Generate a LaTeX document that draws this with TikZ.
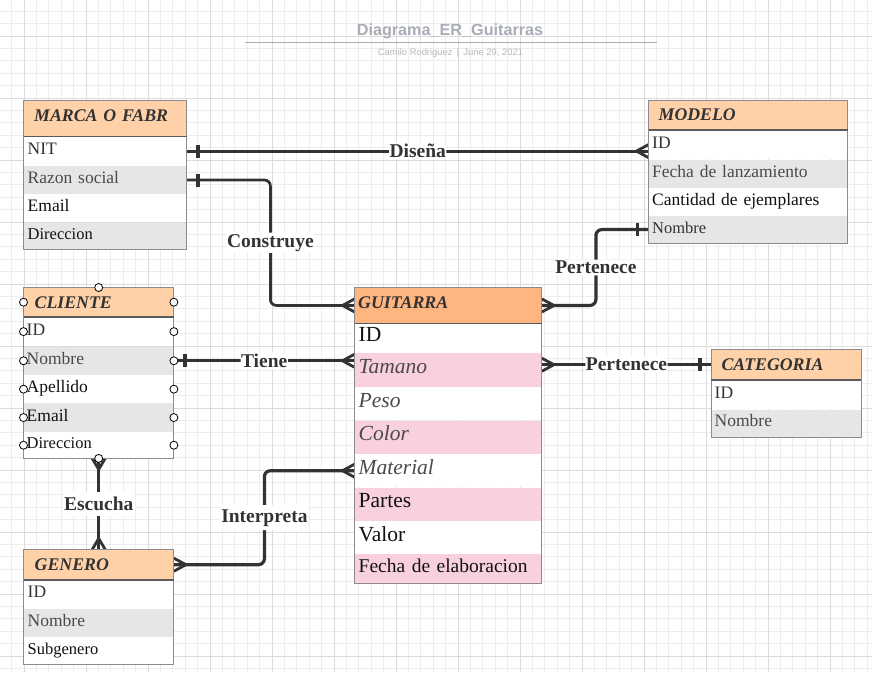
\documentclass[tikz,border=0pt]{standalone}
\usepackage{fontspec}
\setmainfont{Liberation Serif}
\newfontfamily\titlefont{Liberation Sans}
\usetikzlibrary{calc}
\definecolor{peach}{HTML}{FFD1A9}
\definecolor{orangeb}{HTML}{FFB57F}
\definecolor{rowgray}{HTML}{E6E6E6}
\definecolor{rowpink}{HTML}{F8D1DC}
\definecolor{cdark}{HTML}{333333}
\definecolor{boxline}{HTML}{8C8C8C}
\definecolor{hdline}{HTML}{5A5A5A}
\definecolor{gminor}{HTML}{EDEDED}
\definecolor{gmajor}{HTML}{DCDCDC}
\definecolor{ttl}{HTML}{A9ADB6}
\definecolor{subttl}{HTML}{B8B8B8}
\definecolor{tA}{HTML}{111111}
\definecolor{tB}{HTML}{333333}
\definecolor{tC}{HTML}{4A4A4A}
\newcommand\hdfont{\fontsize{17.8}{19}\selectfont\bfseries\itshape}
\newcommand\rwfont{\fontsize{17.5}{19}\selectfont}
\newcommand\rwsmall{\fontsize{16.5}{18}\selectfont}
\newcommand\gbig{\fontsize{21.5}{23}\selectfont}
\newcommand\gmid{\fontsize{19.5}{21}\selectfont}
\newcommand\lbfont{\fontsize{19.5}{21}\selectfont\bfseries}
\newcommand\ttlfont{\titlefont\fontsize{16.2}{18}\selectfont\bfseries}
\newcommand\subfont{\titlefont\fontsize{9.4}{11}\selectfont}
\newcommand\crowW[1]{\draw[endmk] ([yshift=6.5pt]#1) -- ([xshift=-12pt]#1) -- ([yshift=-6.5pt]#1);}
\newcommand\crowE[1]{\draw[endmk] ([yshift=6.5pt]#1) -- ([xshift=12pt]#1) -- ([yshift=-6.5pt]#1);}
\newcommand\crowS[1]{\draw[endmk] ([xshift=-6.5pt]#1) -- ([yshift=-11pt]#1) -- ([xshift=6.5pt]#1);}
\newcommand\crowN[1]{\draw[endmk] ([xshift=-6.5pt]#1) -- ([yshift=11pt]#1) -- ([xshift=6.5pt]#1);}
\newcommand\barW[1]{\draw[barmk] ([xshift=-11pt,yshift=6.5pt]#1) -- ([xshift=-11pt,yshift=-6.5pt]#1);}
\newcommand\barE[1]{\draw[barmk] ([xshift=11pt,yshift=6.5pt]#1) -- ([xshift=11pt,yshift=-6.5pt]#1);}
\tikzset{
  hd/.style={anchor=north west, inner ysep=0pt, align=left, font=\hdfont, text=cdark, fill=peach, text height=12pt, text depth=0pt},
  rw/.style={anchor=north west, inner ysep=0pt, align=left, font=\rwfont, text=tB, fill=white, text height=12pt, text depth=5pt},
  grw/.style={rw, font=\gbig, text height=15pt, text depth=8pt},
  entbox/.style={draw=boxline, line width=0.9pt},
  hdsep/.style={draw=hdline, line width=1.3pt},
  conn/.style={draw=cdark, line width=3.2pt, rounded corners=6pt},
  endmk/.style={draw=cdark, line width=2.8pt, line join=round},
  barmk/.style={draw=cdark, line width=3.2pt},
  lab/.style={font=\lbfont, text=cdark, fill=white, inner sep=1.5pt},
  circ/.style={circle, draw=black, fill=white, line width=0.8pt, minimum size=8pt, inner sep=0pt},
  gridmin/.style={draw=gminor, line width=0.9pt},
  gridmaj/.style={draw=gmajor, line width=1pt},
  mrw/.style={rw, text width=155pt, inner xsep=4pt},
  ordw/.style={rw, text width=192pt, inner xsep=3.5pt},
  crw/.style={rw, text width=144pt, inner xsep=3pt},
  gtw/.style={grw, text width=179pt, inner xsep=4pt},
  ktw/.style={rw, text width=143pt, inner xsep=3.5pt},
  nrw/.style={rw, text width=142pt, inner xsep=4pt},
}
\begin{document}
\begin{tikzpicture}[x=1pt,y=-1pt]
\useasboundingbox (0,0) rectangle (872,672);
\fill[white] (0,0) rectangle (872,672);
% grid
\begin{scope}
\clip (0,0) rectangle (872,672);
\foreach \i in {0,...,71} {\draw[gridmin] ({-0.8+12.4*\i},0) -- ++(0,672);}
\foreach \i in {0,...,55} {\draw[gridmin] (0,{-1.2+12.4*\i}) -- ++(872,0);}
\foreach \i in {0,...,15} {\draw[gridmaj] ({-38+62*\i},0) -- ++(0,672);}
\foreach \i in {0,...,12} {\draw[gridmaj] (0,{-26+62*\i}) -- ++(872,0);}
\end{scope}
% title
\node[font=\ttlfont, text=ttl, inner sep=0pt] (title) at (450,31) {Diagrama\_ER\_Guitarras};
\coordinate (tla) at (245,42.3);
\coordinate (tlb) at (657,42.3);
\draw[draw=ttl, line width=1.1pt] (tla) -- (tlb);
\node[font=\subfont, text=subttl, inner sep=0pt] (subtitle) at (450.5,52.7) {Camilo Rodriguez\hspace{0.45em}|\hspace{0.45em}June 29, 2021};

% ---------- MARCA O FABR
\node[hd, text width=142pt, inner xsep=10.5pt, minimum height=36pt, text depth=5pt] (marcah) at (23.5,100) {MARCA O FABR};
\node[mrw, minimum height=29pt] (marca1) at (marcah.south west) {NIT};
\node[mrw, minimum height=28pt, fill=rowgray, text=tC] (marca2) at (marca1.south west) {Razon social};
\node[mrw, minimum height=28pt, text=tA] (marca3) at (marca2.south west) {Email};
\node[mrw, minimum height=26pt, fill=rowgray, font=\rwsmall, text=tA] (marca4) at (marca3.south west) {Direccion};

% ---------- MODELO
\node[hd, text width=179pt, inner xsep=10pt, minimum height=29.5pt] (modeloh) at (648.5,100) {MODELO};
\node[ordw, minimum height=29pt] (modelo1) at (modeloh.south west) {ID};
\node[ordw, minimum height=28.5pt, fill=rowgray, text=tC] (modelo2) at (modelo1.south west) {Fecha de lanzamiento};
\node[ordw, minimum height=27.5pt, text=tA] (modelo3) at (modelo2.south west) {Cantidad de ejemplares};
\node[ordw, minimum height=26.5pt, fill=rowgray, font=\rwsmall] (modelo4) at (modelo3.south west) {Nombre};

% ---------- CLIENTE
\node[hd, text width=128pt, inner xsep=11pt, minimum height=29pt] (clienteh) at (23.5,287.5) {CLIENTE};
\node[crw, minimum height=29pt] (cliente1) at (clienteh.south west) {ID};
\node[crw, minimum height=28.5pt, fill=rowgray, text=tC] (cliente2) at (cliente1.south west) {Nombre};
\node[crw, minimum height=27.5pt, text=tA] (cliente3) at (cliente2.south west) {Apellido};
\node[crw, minimum height=28.5pt, fill=rowgray, text=tA] (cliente4) at (cliente3.south west) {Email};
\node[crw, minimum height=26pt, font=\rwsmall, text=tA] (cliente5) at (cliente4.south west) {Direccion};

% ---------- GUITARRA
\node[hd, fill=orangeb, text width=180pt, inner xsep=3.5pt, minimum height=35.5pt, text depth=6pt] (guith) at (354.5,287.5) {GUITARRA};
\node[gtw, minimum height=29pt, text=tA] (guit1) at (guith.south west) {ID};
\node[gtw, minimum height=34pt, fill=rowpink, text=tC, font=\gbig\itshape] (guit2) at (guit1.south west) {Tamano};
\node[gtw, minimum height=33pt, text=tC, font=\gbig\itshape] (guit3) at (guit2.south west) {Peso};
\node[gtw, minimum height=33pt, fill=rowpink, text=tC, font=\gbig\itshape] (guit4) at (guit3.south west) {Color};
\node[gtw, minimum height=33pt, text=tC, font=\gbig\itshape] (guit5) at (guit4.south west) {Material};
\node[gtw, minimum height=33pt, fill=rowpink, text=tA] (guit6) at (guit5.south west) {Partes};
\node[gtw, minimum height=33pt, text=tA] (guit7) at (guit6.south west) {Valor};
\node[gtw, minimum height=29pt, fill=rowpink, text=tA, font=\gmid, text height=13.5pt, text depth=6.5pt] (guit8) at (guit7.south west) {Fecha de elaboracion};

% ---------- CATEGORIA
\node[hd, text width=129.4pt, inner xsep=10.3pt, minimum height=30pt] (cath) at (711,349.5) {CATEGORIA};
\node[ktw, minimum height=29pt] (cat1) at (cath.south west) {ID};
\node[ktw, minimum height=27.5pt, fill=rowgray, text=tC] (cat2) at (cat1.south west) {Nombre};

% ---------- GENERO
\node[hd, text width=128pt, inner xsep=11pt, minimum height=30pt, text depth=1pt] (generoh) at (23.5,549.5) {GENERO};
\node[nrw, minimum height=28.5pt] (genero1) at (generoh.south west) {ID};
\node[nrw, minimum height=28pt, fill=rowgray, text=tC] (genero2) at (genero1.south west) {Nombre};
\node[nrw, minimum height=26.5pt, font=\rwsmall, text=tA] (genero3) at (genero2.south west) {Subgenero};

% ---------- connectors
\coordinate (disEnd) at (marca1.east -| modelo1.west);
\draw[conn] (marca1.east) -- node[lab, inner xsep=0.5pt] (ldis) {Diseña} (disEnd);
\barE{marca1.east}
\crowW{disEnd}

\draw[conn, line width=2.7pt] (marca2.east) -- ++(83.5,0) |- node[lab, pos=0.25] (lcon) {Construye} (guith.west);
\barE{marca2.east}
\crowW{guith.west}

\draw[conn] (guith.east) -- ++(54,0) |- node[lab, pos=0.25] (lper) {Pertenece} (modelo4.west);
\crowE{guith.east}
\barW{modelo4.west}

\coordinate (tieEnd) at (cliente2.east -| guith.west);
\draw[conn] (cliente2.east) -- node[lab, inner xsep=0.5pt] (ltie) {Tiene} (tieEnd);
\barE{cliente2.east}
\crowW{tieEnd}

\coordinate (catStart) at (cath.west -| guith.east);
\draw[conn] (catStart) -- node[lab, inner xsep=0.5pt] (lcat) {Pertenece} (cath.west);
\crowE{catStart}
\barW{cath.west}

\draw[conn] (cliente5.south) -- node[lab, inner ysep=5pt] (lesc) {Escucha} (generoh.north);
\crowS{cliente5.south}
\crowN{generoh.north}

\draw[conn] (generoh.east) -- ++(90.5,0) |- node[lab, pos=0.25, inner ysep=4pt] (lint) {Interpreta} (guit5.west);
\crowE{generoh.east}
\crowW{guit5.west}

% ---------- entity outlines
\foreach \h/\b in {marcah/marca4, modeloh/modelo4, clienteh/cliente5, guith/guit8, cath/cat2, generoh/genero3} {
  \draw[entbox] (\h.north west) rectangle (\b.south east);
  \draw[hdsep] (\h.south west) -- (\h.south east);
}

% ---------- connection points on CLIENTE
\foreach \n/\k in {clienteh/0, cliente1/1, cliente2/2, cliente3/3, cliente4/4, cliente5/5} {
  \node[circ] (cl\k) at (\n.west) {};
  \node[circ] (cr\k) at (\n.east) {};
}
\node[circ] (ctop) at (clienteh.north) {};
\node[circ] (cbot) at (cliente5.south) {};
\end{tikzpicture}
\end{document}
